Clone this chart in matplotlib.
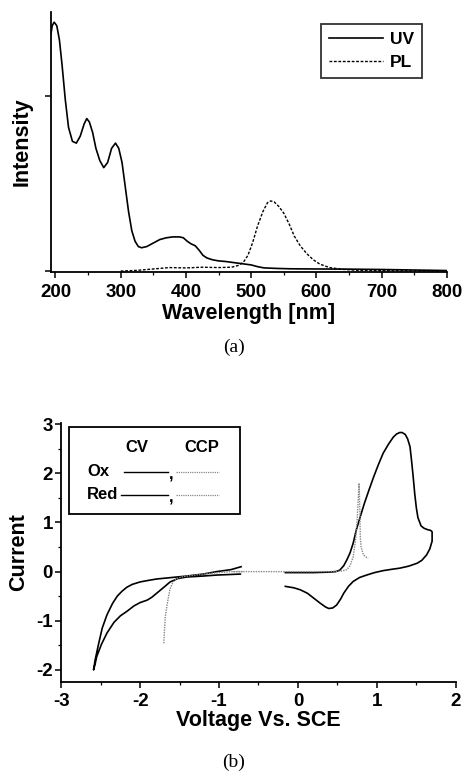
import numpy as np
import matplotlib
matplotlib.use("Agg")
import matplotlib.pyplot as plt
from matplotlib.ticker import MultipleLocator, NullFormatter
from matplotlib.patches import Rectangle

plt.rcParams['font.family'] = ['Liberation Sans', 'DejaVu Sans']
plt.rcParams['font.weight'] = 'bold'
plt.rcParams['axes.unicode_minus'] = False

# ---------------- (a) UV / PL spectra ----------------
uv_wl = [193, 195, 198, 202, 206, 210, 215, 220, 226, 232, 238, 244, 248, 252, 257, 262, 268, 274,
         280, 286, 292, 297, 302, 307, 312, 317, 322, 327, 332, 340, 350, 360, 370, 380, 390, 396,
         402, 408, 414, 420, 426, 432, 440, 450, 460, 470, 480, 490, 500, 510, 520, 540, 560, 600,
         650, 700, 750, 800]
uv_int = [1.35, 1.40, 1.42, 1.40, 1.32, 1.18, 0.98, 0.82, 0.74, 0.73, 0.77, 0.84, 0.87, 0.85, 0.79,
          0.70, 0.63, 0.59, 0.62, 0.70, 0.73, 0.70, 0.62, 0.48, 0.34, 0.23, 0.17, 0.14, 0.133, 0.14,
          0.16, 0.18, 0.19, 0.195, 0.195, 0.19, 0.17, 0.155, 0.145, 0.12, 0.09, 0.075, 0.065, 0.058,
          0.055, 0.05, 0.045, 0.04, 0.035, 0.025, 0.018, 0.015, 0.013, 0.012, 0.011, 0.009, 0.006, 0.003]

pl_wl = [300, 325, 350, 375, 400, 425, 450, 470, 480, 488, 495, 502, 510, 518, 525, 530, 535, 542,
         550, 558, 566, 575, 585, 595, 605, 620, 640, 660, 700, 750, 800]
pl_int = [0.0, 0.004, 0.012, 0.020, 0.018, 0.022, 0.020, 0.022, 0.032, 0.05, 0.09, 0.16, 0.26, 0.34,
          0.39, 0.40, 0.395, 0.37, 0.33, 0.27, 0.20, 0.145, 0.10, 0.065, 0.04, 0.02, 0.01, 0.005,
          0.002, 0.001, 0.0]

# ---------------- (b) CV / CCP ----------------
red_cv_v = [-0.72, -0.85, -1.03, -1.2, -1.41, -1.6, -1.79, -1.9, -2.0, -2.1, -2.17, -2.23, -2.29,
            -2.35, -2.42, -2.48, -2.53, -2.57, -2.59,
            -2.57, -2.55, -2.49, -2.42, -2.33, -2.25, -2.16, -2.08, -2.0, -1.91, -1.85, -1.79,
            -1.70, -1.62, -1.52, -1.41, -1.2, -1.03, -0.88, -0.73]
red_cv_i = [0.10, 0.04, 0.0, -0.05, -0.09, -0.12, -0.15, -0.18, -0.21, -0.26, -0.32, -0.40, -0.50,
            -0.65, -0.88, -1.15, -1.50, -1.80, -2.0,
            -1.88, -1.73, -1.48, -1.25, -1.03, -0.90, -0.80, -0.70, -0.63, -0.58, -0.52, -0.44,
            -0.32, -0.21, -0.14, -0.11, -0.09, -0.07, -0.06, -0.05]

ox_cv_v = [-0.16, -0.05, 0.03, 0.12, 0.20, 0.28, 0.35, 0.39, 0.44, 0.49, 0.54, 0.58, 0.64, 0.70,
           0.78, 0.87, 0.97, 1.08, 1.2, 1.29, 1.40, 1.51, 1.57, 1.63, 1.67, 1.70, 1.70,
           1.68, 1.65, 1.60, 1.56, 1.52, 1.50, 1.48, 1.46, 1.44, 1.42, 1.39, 1.36, 1.32, 1.29, 1.25,
           1.21, 1.15, 1.08, 1.02, 0.96, 0.90, 0.84, 0.79, 0.74, 0.70, 0.66, 0.62, 0.58, 0.53,
           0.48, 0.40, 0.2, 0.03, -0.16]
ox_cv_i = [-0.30, -0.33, -0.37, -0.44, -0.54, -0.64, -0.72, -0.75, -0.74, -0.68, -0.56, -0.44,
           -0.30, -0.20, -0.12, -0.07, -0.02, 0.02, 0.05, 0.07, 0.11, 0.17, 0.23, 0.34, 0.46, 0.62,
           0.81, 0.84, 0.85, 0.88, 0.93, 1.10, 1.30, 1.58, 1.93, 2.25, 2.54, 2.70, 2.79, 2.83, 2.83,
           2.80, 2.74, 2.60, 2.41, 2.18, 1.93, 1.66, 1.38, 1.12, 0.85, 0.58, 0.38, 0.24, 0.12, 0.03,
           0.0, -0.01, -0.02, -0.02, -0.02]

red_ccp_v = [-0.70, -0.85, -1.0, -1.15, -1.3, -1.45, -1.52, -1.56, -1.59, -1.62, -1.64, -1.66,
             -1.68, -1.69, -1.70]
red_ccp_i = [0.0, 0.0, -0.02, -0.04, -0.07, -0.10, -0.13, -0.17, -0.24, -0.35, -0.51, -0.70,
             -0.91, -1.15, -1.46]

ox_ccp_v = [-0.82, -0.6, -0.4, -0.2, 0.0, 0.2, 0.4, 0.55, 0.62, 0.66, 0.70, 0.73, 0.75, 0.765,
            0.775, 0.785, 0.79, 0.80, 0.83, 0.86, 0.89]
ox_ccp_i = [0.0, 0.0, 0.0, 0.0, 0.0, 0.0, 0.0, 0.01, 0.04, 0.12, 0.30, 0.65, 1.05, 1.50, 1.80,
            1.20, 0.70, 0.50, 0.34, 0.30, 0.27]

fig = plt.figure(figsize=(4.67, 7.77), dpi=100)

# ---- panel (a)
ax1 = fig.add_axes([0.109, 0.650, 0.848, 0.335])
ax1.plot(uv_wl, uv_int, color='black', lw=1.2, label='UV')
ax1.plot(pl_wl, pl_int, color='black', lw=1.0, ls=(0, (2, 1.2)), label='PL')
ax1.set_xlim(193, 800)
ax1.set_ylim(-0.005, 1.48)
ax1.xaxis.set_major_locator(MultipleLocator(100))
ax1.xaxis.set_minor_locator(MultipleLocator(50))
ax1.set_yticks([0, 1.0])
ax1.yaxis.set_major_formatter(NullFormatter())
for s in ['top', 'right']:
    ax1.spines[s].set_visible(False)
for s in ['left', 'bottom']:
    ax1.spines[s].set_linewidth(1.3)
ax1.tick_params(axis='both', which='major', direction='out', length=4, width=1.1, labelsize=13.5, pad=2)
ax1.tick_params(axis='x', which='major', pad=5)
ax1.tick_params(axis='both', which='minor', direction='out', length=2.5, width=0.9)
ax1.set_xlabel('Wavelength [nm]', fontsize=15.5, fontweight='bold', labelpad=1)
ax1.set_ylabel('Intensity', fontsize=15.5, fontweight='bold', labelpad=7)
leg = ax1.legend(loc='upper right', bbox_to_anchor=(0.958, 0.985), frameon=True,
                 fancybox=False, edgecolor='black', handlelength=3.1, handletextpad=0.4,
                 borderpad=0.45, labelspacing=0.45, prop={'weight': 'bold', 'size': 12.5})
leg.get_frame().set_linewidth(1.3)
fig.text(0.5, 0.553, '(a)', ha='center', va='center', fontsize=14, fontweight='normal',
         family=['Liberation Serif', 'DejaVu Serif'])

# ---- panel (b)
ax2 = fig.add_axes([0.131, 0.122, 0.845, 0.334])
ax2.plot(red_cv_v, red_cv_i, color='black', lw=1.2)
ax2.plot(ox_cv_v, ox_cv_i, color='black', lw=1.2)
ax2.plot(red_ccp_v, red_ccp_i, color='#888888', lw=1.0, ls=(0, (1, 0.8)))
ax2.plot(ox_ccp_v, ox_ccp_i, color='#888888', lw=1.0, ls=(0, (1, 0.8)))
ax2.set_xlim(-3, 2)
ax2.set_ylim(-2.25, 3.03)
ax2.xaxis.set_major_locator(MultipleLocator(1))
ax2.xaxis.set_minor_locator(MultipleLocator(0.5))
ax2.yaxis.set_major_locator(MultipleLocator(1))
ax2.yaxis.set_minor_locator(MultipleLocator(0.5))
for s in ['top', 'right']:
    ax2.spines[s].set_visible(False)
for s in ['left', 'bottom']:
    ax2.spines[s].set_linewidth(1.3)
ax2.tick_params(axis='both', which='major', direction='out', length=4, width=1.1, labelsize=13.5, pad=2)
ax2.tick_params(axis='x', which='major', pad=4)
ax2.tick_params(axis='both', which='minor', direction='out', length=2.5, width=0.9)
ax2.set_xlabel('Voltage Vs. SCE', fontsize=15.5, fontweight='bold', labelpad=0)
ax2.set_ylabel('Current', fontsize=15.5, fontweight='bold', labelpad=5)

# manual legend box
tr = ax2.transAxes
ax2.add_patch(Rectangle((0.02, 0.649), 0.434, 0.336, transform=tr, fill=False, lw=1.3,
                        edgecolor='black', zorder=5))
ax2.text(0.193, 0.903, 'CV', transform=tr, ha='center', va='center', fontsize=12)
ax2.text(0.357, 0.903, 'CCP', transform=tr, ha='center', va='center', fontsize=12)
ax2.text(0.066, 0.811, 'Ox', transform=tr, ha='left', va='center', fontsize=12)
ax2.text(0.066, 0.722, 'Red', transform=tr, ha='left', va='center', fontsize=12)
ax2.plot([0.16, 0.27], [0.811, 0.811], transform=tr, color='black', lw=1.0)
ax2.plot([0.152, 0.27], [0.722, 0.722], transform=tr, color='black', lw=1.0)
ax2.plot([0.29, 0.40], [0.811, 0.811], transform=tr, color='#888888', lw=0.9, ls=(0, (1, 0.8)))
ax2.plot([0.29, 0.40], [0.722, 0.722], transform=tr, color='#888888', lw=0.9, ls=(0, (1, 0.8)))
ax2.text(0.279, 0.80, ',', transform=tr, ha='center', va='center', fontsize=12)
ax2.text(0.279, 0.711, ',', transform=tr, ha='center', va='center', fontsize=12)

fig.text(0.5, 0.019, '(b)', ha='center', va='center', fontsize=14, fontweight='normal',
         family=['Liberation Serif', 'DejaVu Serif'])

fig.savefig('out.png', dpi=100)
